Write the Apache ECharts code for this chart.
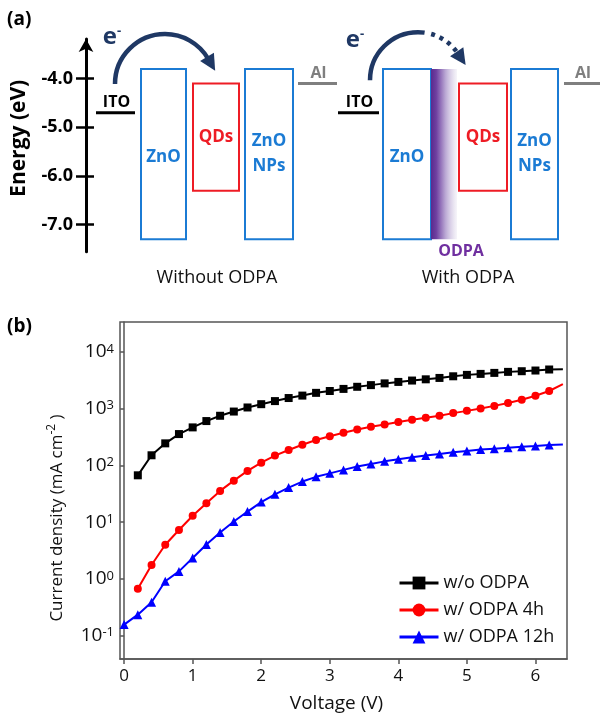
<!DOCTYPE html>
<html><head><meta charset="utf-8">
<script src="https://cdn.jsdelivr.net/npm/echarts@6/dist/echarts.min.js"></script>
<style>html,body{margin:0;padding:0;background:#fff}#c{width:601px;height:718px}</style>
</head><body><div id="c"></div>
<script>
// ================= DATA =================
// Panel (a): energy levels (eV)
const layerNames = ['ITO', 'ZnO', 'ODPA', 'QDs', 'ZnO\nNPs', 'Al'];
const layerUpper = [-4.7, -3.8, -3.8, -4.1, -3.8, -4.1];
const layerLower = [null, -7.3, -7.3, -6.3, -7.3, null];
const energyTicks = [-7.0, -6.0, -5.0, -4.0];
const diagramTitles = ['Without ODPA', 'With ODPA'];
// which layers appear in each diagram: [diagram, layer]
const diagramLayers = [[0,0],[0,1],[0,3],[0,4],[0,5],[1,0],[1,1],[1,2],[1,3],[1,4],[1,5]];

// Panel (b): J-V curves
const voltage = [0.0,0.2,0.4,0.6,0.8,1.0,1.2,1.4,1.6,1.8,2.0,2.2,2.4,2.6,2.8,3.0,3.2,3.4,3.6,3.8,4.0,4.2,4.4,4.6,4.8,5.0,5.2,5.4,5.6,5.8,6.0,6.2,6.4];
const jNoODPA = [null,67,151,245,357,468,605,750,890,1050,1200,1360,1540,1700,1900,2050,2230,2430,2600,2790,2960,3130,3290,3480,3720,3940,4100,4270,4450,4570,4700,4900,4970];
const jODPA4h = [null,0.67,1.76,4.0,7.3,13,21.6,35.6,54,80,112,149,187,232,280,326,378,431,480,528,582,638,693,750,835,915,1010,1120,1260,1440,1690,2050,2700];
const jODPA12h = [0.157,0.235,0.39,0.91,1.36,2.34,4.05,6.6,10.3,15.4,22.6,31,40.7,52,63,72.5,83.5,95.5,106,118,128,139,149,159,170,180,190,197,204,214,220,229,235];
const seriesNames = ['w/o ODPA', 'w/ ODPA 4h', 'w/ ODPA 12h'];
const xTicks = [0,1,2,3,4,5,6];
const yTicks = [0.1, 1, 10, 100, 1000, 10000];

// ================= LAYOUT / STYLE =================
const FF = '"Open Sans","Noto Sans",sans-serif';
const BLUE = '#1b7bd4', RED = '#ee1c25', NAVY = '#1f3864', PURPLE = '#7030a0', GRAY = '#7f7f7f';
const layerColors = ['#000', BLUE, PURPLE, RED, BLUE, GRAY];
// horizontal spans of each layer in the schematic (axis units), per diagram
const layerX = [
  [[10,49],[55,100],null,[107,153],[159,207],[212,251]],
  [[252,293],[297,345],[345,371],[373,421],[425,472],[478,514]]
];
const arrowLayout = [
  {center:[79,-4.11], r:50, solid:[Math.PI, 2*Math.PI-0.534], dotted:null, head:2*Math.PI-0.534, e:[-53,-47]},
  {center:[332,-4.03], r:48, solid:[Math.PI, 4.85], dotted:[4.99, 5.69], head:5.69, e:[-63,-40]}
];

function pairs(arr) {
  const out = [];
  arr.forEach((v, i) => {
    if (v == null) return;
    if (i === arr.length - 1) out.push({value:[voltage[i], v], symbol:'none'});
    else out.push([voltage[i], v]);
  });
  return out;
}

function renderLayer(params, api) {
  const d = api.value(0), li = api.value(1);
  const span = layerX[d][li];
  const up = layerUpper[li], lo = layerLower[li];
  const col = layerColors[li];
  const p0 = api.coord([span[0], up]);
  const p1 = api.coord([span[1], lo == null ? up : lo]);
  const cx = (p0[0] + p1[0]) / 2;
  if (lo == null) {
    return {type:'group', children:[
      {type:'line', shape:{x1:p0[0], y1:p0[1], x2:p1[0], y2:p0[1]}, style:{stroke:col, lineWidth:3}},
      {type:'text', x:cx + 1, y:p0[1] - 10, style:{text:layerNames[li], fill:col, font:'bold 16px ' + FF, align:'center', verticalAlign:'middle'}}
    ]};
  }
  if (layerNames[li] === 'ODPA') {
    return {type:'group', children:[
      {type:'rect', shape:{x:p0[0], y:p0[1], width:p1[0]-p0[0], height:p1[1]-p0[1]},
       style:{fill:new echarts.graphic.LinearGradient(0,0,1,0,[
         {offset:0, color:'#5a2a8e'},{offset:0.2, color:'#6e3fa0'},{offset:0.55, color:'#b9a6d3'},{offset:1, color:'rgba(240,238,246,0.6)'}])}},
      {type:'text', x:p0[0] + 30, y:p1[1] + 12, style:{text:'ODPA', fill:col, font:'bold 16px ' + FF, align:'center', verticalAlign:'middle'}}
    ]};
  }
  const cy = (p0[1] + p1[1]) / 2 + (li === 1 ? 3 : 0);
  return {type:'group', children:[
    {type:'rect', shape:{x:p0[0], y:p0[1], width:p1[0]-p0[0], height:p1[1]-p0[1]}, style:{fill:'none', stroke:col, lineWidth:2}},
    {type:'text', x:cx, y:cy, style:{text:layerNames[li], fill:col, font:'bold 17px ' + FF, align:'center', verticalAlign:'middle', lineHeight:25}}
  ]};
}

function renderArrow(params, api) {
  const a = arrowLayout[params.dataIndex];
  const c = api.coord(a.center);
  const ch = [];
  ch.push({type:'arc', shape:{cx:c[0], cy:c[1], r:a.r, startAngle:a.solid[0], endAngle:a.solid[1], clockwise:true},
           style:{fill:'none', stroke:NAVY, lineWidth:4.5}});
  if (a.dotted) ch.push({type:'arc', shape:{cx:c[0], cy:c[1], r:a.r, startAngle:a.dotted[0], endAngle:a.dotted[1], clockwise:true},
           style:{fill:'none', stroke:NAVY, lineWidth:4.5, lineDash:[4,5]}});
  const th = a.head;
  const bx = c[0] + a.r*Math.cos(th), by = c[1] + a.r*Math.sin(th);
  const tx = -Math.sin(th), ty = Math.cos(th), nx = Math.cos(th), ny = Math.sin(th);
  const L = 14, W = 8;
  ch.push({type:'polygon', shape:{points:[[bx+tx*L, by+ty*L],[bx+nx*W-tx*2, by+ny*W-ty*2],[bx-nx*W-tx*2, by-ny*W-ty*2]]}, style:{fill:NAVY}});
  ch.push({type:'text', x:c[0]+a.e[0], y:c[1]+a.e[1], style:{text:'{e|e}{s|-}', align:'center', verticalAlign:'middle',
    rich:{e:{fontSize:24, fontWeight:'bold', fontFamily:FF, fill:NAVY, lineHeight:24, verticalAlign:'bottom'},
          s:{fontSize:13, fontWeight:'bold', fontFamily:FF, fill:NAVY, lineHeight:13, verticalAlign:'top'}}}});
  return {type:'group', children:ch};
}

const chart = echarts.init(document.getElementById('c'), null, {renderer:'canvas'});
chart.setOption({
  animation:false,
  backgroundColor:'#fff',
  textStyle:{fontFamily:FF},
  grid:[
    {left:86, right:0, top:39, bottom:466.3},
    {left:120, right:34, top:322, bottom:59, show:true, borderColor:'#555', borderWidth:1.5}
  ],
  xAxis:[
    {gridIndex:0, type:'value', min:0, max:515, show:false},
    {gridIndex:1, type:'value', min:-0.06, max:6.46,
     axisLine:{lineStyle:{color:'#555', width:1.5}},
     axisTick:{customValues:xTicks, length:5, lineStyle:{color:'#555', width:1.5}},
     axisLabel:{customValues:xTicks, color:'#111', fontSize:17, fontFamily:FF, margin:9},
     splitLine:{show:false},
     name:'{v|Voltage (V)}{g| }', nameLocation:'middle', nameGap:35,
     nameTextStyle:{rich:{v:{color:'#111', fontSize:19, fontFamily:FF}, g:{width:14, fontSize:19}}}}
  ],
  yAxis:[
    {gridIndex:0, type:'value', min:-7.555, max:-3.184, position:'left',
     axisLine:{show:true, lineStyle:{color:'#000', width:3}, symbol:['none','arrow'], symbolSize:[11,13]},
     axisTick:{show:true, customValues:energyTicks, length:10, lineStyle:{color:'#000', width:2.5}},
     axisLabel:{customValues:energyTicks, formatter:v => v.toFixed(1), color:'#000', fontWeight:'bold', fontSize:18, fontFamily:FF, margin:13},
     splitLine:{show:false},
     name:'Energy (eV)', nameLocation:'middle', nameRotate:90, nameGap:56,
     nameTextStyle:{color:'#000', fontWeight:'bold', fontSize:21, fontFamily:FF, padding:[0,0,0,14]}},
    {gridIndex:0, type:'value', min:-7.555, max:-3.184, position:'left',
     axisLine:{show:false},
     axisTick:{show:true, inside:true, customValues:energyTicks, length:8, lineStyle:{color:'#000', width:2.5}},
     axisLabel:{show:false}, splitLine:{show:false}},
    {gridIndex:1, type:'log', logBase:10, min:Math.pow(10,-1.41), max:Math.pow(10,4.527),
     axisLine:{show:true, lineStyle:{color:'#555', width:1.5}},
     axisTick:{show:true, customValues:yTicks, length:4, lineStyle:{color:'#555', width:1.5}},
     axisLabel:{customValues:yTicks, margin:6, fontSize:19, fontFamily:FF, color:'#111',
       formatter:v => '{b|10}{e|' + Math.round(Math.log10(v)) + '}',
       rich:{b:{fontSize:19, fontFamily:FF, color:'#111', lineHeight:19, padding:[10,0,0,0], verticalAlign:'bottom'},
             e:{fontSize:13, fontFamily:FF, color:'#111', lineHeight:13, verticalAlign:'top'}}},
     splitLine:{show:false}}
  ],
  legend:{left:393, top:569, orient:'vertical', itemGap:9, itemWidth:39, itemHeight:16,
    data:seriesNames, lineStyle:{width:3},
    textStyle:{fontSize:18, fontFamily:FF, color:'#111'}},
  graphic:[
    {type:'text', x:7, y:20, style:{text:'(a)', font:'bold 19px ' + FF, fill:'#000', verticalAlign:'middle'}},
    {type:'text', x:7, y:327, style:{text:'(b)', font:'bold 19px ' + FF, fill:'#000', verticalAlign:'middle'}},
    {type:'text', x:217, y:278, style:{text:diagramTitles[0], font:'18px ' + FF, fill:'#111', align:'center', verticalAlign:'middle'}},
    {type:'text', x:468, y:278, style:{text:diagramTitles[1], font:'18px ' + FF, fill:'#111', align:'center', verticalAlign:'middle'}},
    {type:'text', x:56, y:518, rotation:Math.PI/2,
     style:{text:'{a|Current density (mA cm}{s|-2}{a| )}', align:'center', verticalAlign:'middle',
       rich:{a:{fontSize:17, fontFamily:FF, fill:'#111', lineHeight:20, verticalAlign:'bottom'},
             s:{fontSize:12, fontFamily:FF, fill:'#111', lineHeight:12, verticalAlign:'top', padding:[0,0,10,0]}}}}
  ],
  series:[
    {type:'custom', xAxisIndex:0, yAxisIndex:0, renderItem:renderLayer, data:diagramLayers, clip:false, silent:true},
    {type:'custom', xAxisIndex:0, yAxisIndex:0, renderItem:renderArrow, data:[[0],[1]], clip:false, silent:true},
    {type:'line', name:seriesNames[0], xAxisIndex:1, yAxisIndex:2, data:pairs(jNoODPA), symbol:'rect', symbolSize:8,
     showAllSymbol:true, itemStyle:{color:'#000'}, lineStyle:{color:'#000', width:2}},
    {type:'line', name:seriesNames[1], xAxisIndex:1, yAxisIndex:2, data:pairs(jODPA4h), symbol:'circle', symbolSize:8,
     showAllSymbol:true, itemStyle:{color:'#ff0000'}, lineStyle:{color:'#ff0000', width:2}},
    {type:'line', name:seriesNames[2], xAxisIndex:1, yAxisIndex:2, data:pairs(jODPA12h), symbol:'triangle', symbolSize:9,
     showAllSymbol:true, itemStyle:{color:'#0000ff'}, lineStyle:{color:'#0000ff', width:2}}
  ]
});
</script></body></html>
